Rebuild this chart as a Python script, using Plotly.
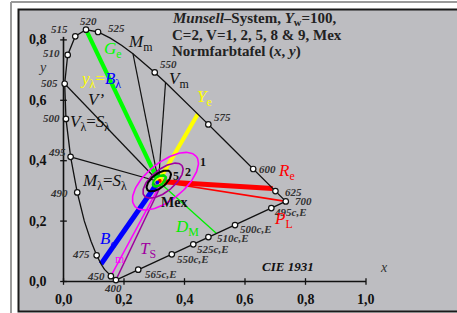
import numpy as np
import plotly.graph_objects as go

# ---------------- data ----------------
locus_nm = [400, 405, 410, 415, 420, 425, 430, 435, 440, 445, 450, 455, 460, 465, 470, 475, 480, 485, 490,
            495, 500, 505, 510, 515, 520, 525, 530, 535, 540, 545, 550, 555, 560, 565, 570, 575, 580, 585,
            590, 595, 600, 605, 610, 615, 620, 625, 630, 635, 640, 645, 650, 655, 660, 665, 670, 700]
locus_x = [0.1733, 0.1730, 0.1726, 0.1721, 0.1714, 0.1703, 0.1689, 0.1669, 0.1644, 0.1611, 0.1566, 0.1510,
           0.1440, 0.1355, 0.1241, 0.1096, 0.0913, 0.0687, 0.0454, 0.0235, 0.0082, 0.0039, 0.0139, 0.0389,
           0.0743, 0.1142, 0.1547, 0.1929, 0.2296, 0.2658, 0.3016, 0.3373, 0.3731, 0.4087, 0.4441, 0.4788,
           0.5125, 0.5448, 0.5752, 0.6029, 0.6270, 0.6482, 0.6658, 0.6801, 0.6915, 0.7006, 0.7079, 0.7140,
           0.7190, 0.7230, 0.7260, 0.7283, 0.7300, 0.7311, 0.7320, 0.7347]
locus_y = [0.0048, 0.0048, 0.0048, 0.0048, 0.0051, 0.0058, 0.0069, 0.0086, 0.0109, 0.0138, 0.0177, 0.0227,
           0.0297, 0.0399, 0.0578, 0.0868, 0.1327, 0.2007, 0.2950, 0.4127, 0.5384, 0.6548, 0.7502, 0.8120,
           0.8338, 0.8262, 0.8059, 0.7816, 0.7543, 0.7243, 0.6923, 0.6589, 0.6245, 0.5896, 0.5547, 0.5202,
           0.4866, 0.4544, 0.4242, 0.3965, 0.3725, 0.3514, 0.3340, 0.3197, 0.3083, 0.2993, 0.2920, 0.2859,
           0.2809, 0.2770, 0.2740, 0.2717, 0.2700, 0.2689, 0.2680, 0.2653]

marked_nm = [400, 450, 475, 490, 495, 500, 505, 510, 515, 520, 525, 550, 575, 600, 625, 700]

purple_labels = ["565c,E", "550c,E", "525c,E", "510c,E", "500c,E", "495c,E"]
purple_x = [0.247, 0.358, 0.429, 0.479, 0.567, 0.687]
purple_y = [0.039, 0.090, 0.123, 0.147, 0.187, 0.243]

mex_x, mex_y = 0.314, 0.331

black_line_nm = [505, 495, 540, 555]
ge_nm, ye_nm, be_nm, re_nm, pl_nm = 520, 570, 470, 620, 700
dm_end = (0.505, 0.160)
cm_start, cm_nm = (0.318, 0.318), 450
ts_start, ts_nm = (0.322, 0.318), 400

# Munsell C=2 ellipses for V = 1, 2, 5, 8, 9
ell_V = [1, 2, 5, 8, 9]
ell_cx = [0.337, 0.329, 0.315, 0.317, 0.315]
ell_cy = [0.332, 0.334, 0.333, 0.333, 0.333]
ell_a = [0.131, 0.080, 0.048, 0.025, 0.013]
ell_b = [0.062, 0.037, 0.023, 0.013, 0.007]
ell_ang = [39, 39, 38, 38, 38]
ell_col = ["#ff00ff", "#a000a0", "#000000", "#00dd00", "#ffff00"]
ell_w = [1.6, 1.6, 2.0, 2.6, 2.0]

xticks = [0.0, 0.2, 0.4, 0.6, 0.8, 1.0]
xtick_text = ["0,0", "0,2", "0,4", "0,6", "0,8", "1,0"]
yticks = [0.0, 0.2, 0.4, 0.6, 0.8]
ytick_text = ["0,0", "0,2", "0,4", "0,6", "0,8"]

# ---------------- helpers (pixel layout -> axis units) ----------------
W, H = 457, 313
X0, SX = 63.5, 302.5
Y0, SY = 281.5, 302.0
def X(px): return (px - X0) / SX
def Y(py): return (Y0 - py) / SY

lx = dict(zip(locus_nm, locus_x))
ly = dict(zip(locus_nm, locus_y))

fig = go.Figure()

def seg(x0, y0, x1, y1, color, width):
    fig.add_trace(go.Scatter(x=[x0, x1], y=[y0, y1], mode="lines",
                             line=dict(color=color, width=width), hoverinfo="skip", showlegend=False))

# axes
seg(0, 0, 1.0, 0, "#111111", 1.6)
seg(0, 0, 0, 0.81, "#111111", 1.6)
for t in xticks:
    seg(t, -0.011, t, 0.011, "#111111", 1.3)
for t in yticks:
    seg(-0.011, t, 0.011, t, "#111111", 1.3)

# black radial lines
for nm in black_line_nm:
    seg(lx[nm], ly[nm], mex_x, mex_y, "#111111", 1.2)

# thin coloured lines
seg(mex_x, mex_y, dm_end[0], dm_end[1], "#00ee00", 1.3)
seg(mex_x, mex_y, lx[pl_nm], ly[pl_nm], "#ff0000", 1.6)
seg(cm_start[0], cm_start[1], lx[cm_nm], ly[cm_nm], "#ff00ff", 1.5)
seg(ts_start[0], ts_start[1], lx[ts_nm], ly[ts_nm], "#a000a0", 1.5)

# thick coloured lines
seg(lx[ge_nm], ly[ge_nm], mex_x, mex_y, "#00ff00", 4.2)
seg(lx[ye_nm], ly[ye_nm], mex_x, mex_y, "#ffff00", 4.2)
seg(lx[be_nm], ly[be_nm], mex_x, mex_y, "#0000ff", 5)
seg(lx[re_nm], ly[re_nm], mex_x, mex_y, "#ff0000", 5)

# spectral locus and purple line
fig.add_trace(go.Scatter(x=locus_x, y=locus_y, mode="lines", line=dict(color="#111111", width=1.3),
                         hoverinfo="skip", showlegend=False))
seg(locus_x[0], locus_y[0], locus_x[-1], locus_y[-1], "#111111", 1.3)

# ellipses
t = np.linspace(0, 2 * np.pi, 121)
for cx, cy, a, b, ang, col, w in zip(ell_cx, ell_cy, ell_a, ell_b, ell_ang, ell_col, ell_w):
    th = np.radians(ang)
    ex = cx + a * np.cos(th) * np.cos(t) - b * np.sin(th) * np.sin(t)
    ey = cy + a * np.sin(th) * np.cos(t) + b * np.cos(th) * np.sin(t)
    fig.add_trace(go.Scatter(x=ex, y=ey, mode="lines", line=dict(color=col, width=w),
                             hoverinfo="skip", showlegend=False))
fig.add_trace(go.Scatter(x=[mex_x + 0.004, mex_x - 0.004], y=[mex_y + 0.002, mex_y - 0.003], mode="markers",
                         marker=dict(color=["#ff0000", "#0000ff"], size=4), hoverinfo="skip", showlegend=False))

# markers
mx = [lx[n] for n in marked_nm] + purple_x
my = [ly[n] for n in marked_nm] + purple_y
fig.add_trace(go.Scatter(x=mx, y=my, mode="markers",
                         marker=dict(symbol="circle", size=5.5, color="white",
                                     line=dict(color="#111111", width=1.2)),
                         hoverinfo="skip", showlegend=False))

ann = []
def A(px, py, text, size=11, color="#222222", anchor="left", family="Liberation Serif"):
    ann.append(dict(x=X(px), y=Y(py), xref="x", yref="y", text=text, showarrow=False,
                    xanchor=anchor, yanchor="middle", font=dict(family=family, size=size, color=color)))

wl_pos = {400: (112.5, 288, "center"), 450: (107, 276, "right"), 475: (92, 254, "right"),
          490: (70, 193, "right"), 495: (68, 152, "right"), 500: (62, 118, "right"),
          505: (60, 83, "right"), 510: (62, 53, "right"), 515: (70, 29, "right"),
          520: (88, 21, "center"), 525: (106, 28, "left"), 550: (158, 64, "left"),
          575: (212, 117, "left"), 600: (257, 169, "left"), 625: (283, 192, "left"),
          700: (293, 201, "left")}
for nm in marked_nm:
    px, py, anc = wl_pos[nm]
    A(px, py, "<b><i>%d</i></b>" % nm, 11, "#333333", anc)
pl_pos = [(143, 274), (175, 259), (195, 249), (215, 238), (238, 229), (272, 212)]
for lab, (px, py) in zip(purple_labels, pl_pos):
    A(px, py, "<b><i>%s</i></b>" % lab, 11, "#333333", "left")

for t_, s in zip(xticks, xtick_text):
    A(X0 + SX * t_, 299, "<b>%s</b>" % s, 14, "#111111", "center")
for t_, s in zip(yticks, ytick_text):
    A(49, Y0 - SY * t_, "<b>%s</b>" % s, 14, "#111111", "right")

A(384, 267, "<i>x</i>", 14, "#333333", "center")
A(42, 67, "<i>y</i>", 14, "#333333", "center")

A(170, 19, "<b><i>Munsell</i>–System, <i>Y</i><sub>w</sub>=100,</b>", 15, "#222222")
A(170, 35, "<b>C=2, V=1, 2, 5, 8 &amp; 9, Mex</b>", 15, "#222222")
A(170, 51, "<b>Normfarbtafel (<i>x</i>, <i>y</i>)</b>", 15, "#222222")

A(102, 50, "<i>G</i><sub>e</sub>", 17, "#00ff00")
A(126, 43, "<i>M</i><sub>m</sub>", 17, "#111111")
A(167, 80, "<i>V</i><sub>m</sub>", 17, "#111111")
A(78, 80, "<span style='color:#ffff00'><i>y</i><sub>λ</sub>=</span><span style='color:#0000ff'><i>B</i><sub>λ</sub></span>", 17)
A(86, 99, "<i>V’</i>", 17, "#111111")
A(68, 123, "<i>V</i><sub>λ</sub>=<i>S</i><sub>λ</sub>", 17, "#111111")
A(195, 98, "<i>Y</i><sub>e</sub>", 17, "#ffff00")
A(80, 182, "<i>M</i><sub>λ</sub>=<i>S</i><sub>λ</sub>", 17, "#111111")
A(173, 228, "<i>D</i><sub>M</sub>", 17, "#00ee00")
A(98, 240, "<i>B</i><sub>e</sub>", 17, "#0000ff")
A(113, 259, "m", 12, "#ff00ff")
A(138, 250, "<i>T</i><sub>S</sub>", 17, "#a000a0")
A(276, 172, "<i>R</i><sub>e</sub>", 17, "#ff0000")
A(272, 220, "<i>P</i><sub>L</sub>", 17, "#ff0000")
A(203, 162, "<b>1</b>", 12, "#111111", "center")
A(188, 172, "<b>2</b>", 12, "#111111", "center")
A(175.5, 176, "<b>5</b>", 12, "#111111", "center")
A(159, 202, "<b>Mex</b>", 14, "#111111")
A(260, 266, "<b><i>CIE 1931</i></b>", 13, "#111111")

def P(px, py): return px / W, 1 - py / H
shapes = []
x0, y0 = P(18.5, 9.5); x1, y1 = P(458, 311.5)
shapes.append(dict(type="rect", xref="paper", yref="paper", x0=x0, y0=y1, x1=x1, y1=y0,
                   line=dict(color="#1a1a1a", width=2), fillcolor="#bdbdc1", layer="below"))
a0, b0 = P(11, 2); a1, b1 = P(11, 313)
shapes.append(dict(type="line", xref="paper", yref="paper", x0=a0, y0=b0, x1=a1, y1=b1,
                   line=dict(color="#9a9a9a", width=2), layer="below"))
a0, b0 = P(11, 2); a1, b1 = P(457, 2)
shapes.append(dict(type="line", xref="paper", yref="paper", x0=a0, y0=b0, x1=a1, y1=b1,
                   line=dict(color="#9a9a9a", width=2), layer="below"))

fig.update_layout(
    width=W, height=H, margin=dict(l=0, r=0, t=0, b=0),
    paper_bgcolor="white", plot_bgcolor="white",
    xaxis=dict(range=[X(0), X(W)], visible=False, fixedrange=True),
    yaxis=dict(range=[Y(H), Y(0)], visible=False, fixedrange=True),
    shapes=shapes, annotations=ann, showlegend=False,
)
fig.write_html("out.html", config={"displayModeBar": False},
               post_script="document.body.style.margin='0';document.body.style.overflow='hidden';")
